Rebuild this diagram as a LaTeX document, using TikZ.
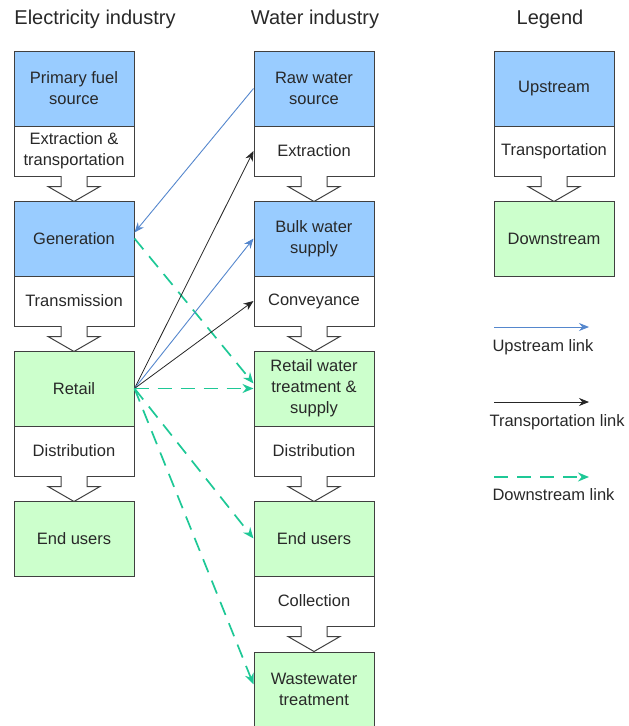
\documentclass[tikz,border=0pt]{standalone}
\usepackage{fontspec}
\setmainfont{Liberation Sans}
\definecolor{upblue}{RGB}{153, 204, 255}
\definecolor{downgreen}{RGB}{204, 255, 204}
\definecolor{edgegray}{RGB}{64, 64, 64}
\definecolor{textgray}{RGB}{40, 40, 40}
\definecolor{linkblue}{RGB}{85, 135, 205}
\definecolor{linkgreen}{RGB}{30, 200, 150}
\usepackage{tikz}
\usetikzlibrary{arrows.meta, calc}

\tikzset{
  stage/.style={draw=edgegray, line width=1pt, minimum width=120pt, align=center,
    text=textgray, font=\fontsize{16.5}{21}\selectfont, inner sep=2pt},
  upbox/.style={stage, fill=upblue, minimum height=75pt},
  downbox/.style={stage, fill=downgreen, minimum height=75pt},
  carrybox/.style={stage, fill=white, minimum height=50pt},
  heading/.style={font=\fontsize{20}{24}\selectfont, text=textgray},
  legtext/.style={font=\fontsize{16.5}{21}\selectfont, text=textgray, anchor=west},
  fatarrow/.style={draw=edgegray, fill=white, line width=1pt, line join=miter},
  uplink/.style={linkblue, line width=0.9pt, -{Stealth[length=10pt, width=8pt]}},
  carrylink/.style={black!85, line width=0.8pt, -{Stealth[length=10pt, width=8pt]}},
  downlink/.style={linkgreen, line width=1.7pt, dash pattern=on 14pt off 9pt,
    -{Stealth[length=11pt, width=9pt]}}
}

% hollow arrow below a transport box
\newcommand{\stagearrow}[1]{%
  \path[fatarrow] ([xshift=-13pt, yshift=0.5pt]#1.south) -- ++(0,10.5) -- ++(-13,0)
    -- ++(26,15) -- ++(26,-15) -- ++(-13,0) -- ++(0,-10.5);}

\begin{document}
\begin{tikzpicture}[x=1pt, y=-1pt]
  \useasboundingbox (0,0) rectangle (629,726);

  % Headings
  \node[heading] (electitle) at (95, 19) {Electricity industry};
  \node[heading] (watertitle) at (315, 19) {Water industry};
  \node[heading] (legtitle) at (550, 19) {Legend};

  % Electricity chain
  \node[upbox] (fuel) at (74, 88.5) {Primary fuel\\source};
  \node[carrybox] (extract) at (74, 151) {Extraction \&\\transportation};
  \node[upbox] (gen) at (74, 238.5) {Generation};
  \node[carrybox] (transm) at (74, 301) {Transmission};
  \node[downbox] (retail) at (74, 388.5) {Retail};
  \node[carrybox] (distr) at (74, 451) {Distribution};
  \node[downbox] (enduse) at (74, 538.5) {End users};

  % Water chain
  \node[upbox] (raw) at (314, 88.5) {Raw water\\source};
  \node[carrybox] (wextract) at (314, 151) {Extraction};
  \node[upbox] (bulk) at (314, 238.5) {Bulk water\\supply};
  \node[carrybox] (convey) at (314, 301) {Conveyance};
  \node[downbox] (wretail) at (314, 388.5) {Retail water\\treatment \&\\supply};
  \node[carrybox] (wdistr) at (314, 451) {Distribution};
  \node[downbox] (wenduse) at (314, 538.5) {End users};
  \node[carrybox] (collect) at (314, 601) {Collection};
  \node[downbox] (waste) at (314, 689.5) {Wastewater\\treatment};

  % Legend boxes
  \node[upbox] (legup) at (554, 88.5) {Upstream};
  \node[carrybox] (legcarry) at (554, 151) {Transportation};
  \node[downbox] (legdown) at (554, 238.5) {Downstream};

  % Hollow arrows
  \stagearrow{extract}
  \stagearrow{transm}
  \stagearrow{distr}
  \stagearrow{wextract}
  \stagearrow{convey}
  \stagearrow{wdistr}
  \stagearrow{collect}
  \stagearrow{legcarry}

  % Links between the industries
  \draw[uplink] (raw.west) -- ([yshift=6pt]gen.east);
  \draw[downlink] (gen.east) -- ([yshift=5pt]wretail.west);
  \draw[carrylink] (retail.east) -- (wextract.west);
  \draw[uplink] (retail.east) -- (bulk.west);
  \draw[carrylink] (retail.east) -- (convey.west);
  \draw[downlink] (retail.east) -- (wretail.west);
  \draw[downlink] (retail.east) -- (wenduse.west);
  \draw[downlink] (retail.east) -- ([yshift=5pt]waste.west);

  % Legend links
  \coordinate (upA) at (494, 327);
  \coordinate (upB) at (589, 327);
  \draw[uplink] (upA) -- (upB);
  \node[legtext] (uplabel) at (489, 347) {Upstream link};

  \coordinate (carryA) at (494, 402);
  \coordinate (carryB) at (589, 402);
  \draw[carrylink] (carryA) -- (carryB);
  \node[legtext] (carrylabel) at (486, 422) {Transportation link};

  \coordinate (downA) at (494, 477);
  \coordinate (downB) at (589, 477);
  \draw[downlink] (downA) -- (downB);
  \node[legtext] (downlabel) at (489, 495) {Downstream link};
\end{tikzpicture}
\end{document}
